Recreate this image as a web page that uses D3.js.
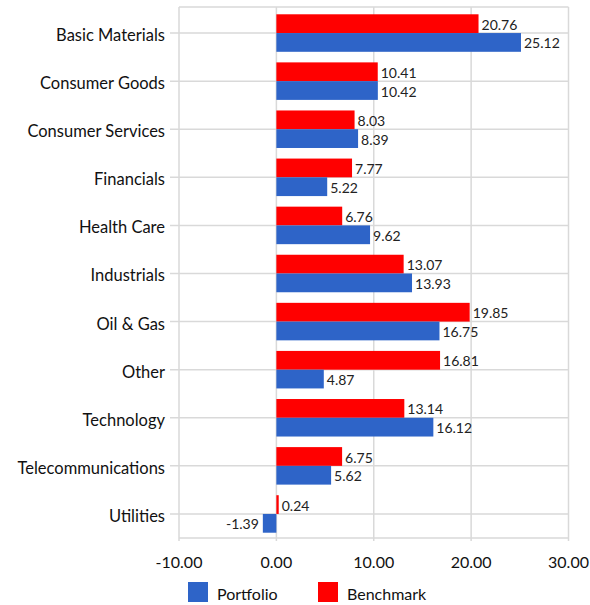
<!DOCTYPE html>
<html><head><meta charset="utf-8">
<script src="https://cdn.jsdelivr.net/npm/d3@7"></script>
<style>html,body{margin:0;padding:0;background:#fff;}</style>
</head><body>
<script>
const categories = ["Basic Materials","Consumer Goods","Consumer Services","Financials","Health Care","Industrials","Oil & Gas","Other","Technology","Telecommunications","Utilities"];
const portfolio = [25.12,10.42,8.39,5.22,9.62,13.93,16.75,4.87,16.12,5.62,-1.39];
const benchmark = [20.76,10.41,8.03,7.77,6.76,13.07,19.85,16.81,13.14,6.75,0.24];
const xTicks = [-10,0,10,20,30];
const seriesNames = ["Portfolio","Benchmark"];
const colors = {Portfolio:"#2e64c8", Benchmark:"#ff0000"};

(function(){
const W=590,H=605;
const pLeft=179,pRight=568.5,pTop=7,pBottom=538;
const font="Lato, 'Open Sans', sans-serif";
const svg=d3.select("body").append("svg").attr("width",W).attr("height",H);

const x=d3.scaleLinear().domain([-10,30]).range([pLeft,pRight]);
const y=d3.scaleBand().domain(categories).range([9,pBottom]).paddingInner(0.22).paddingOuter(0.11);
const grid="#d9d9d9";

const g=svg.append("g");
g.selectAll("line.v").data(xTicks).join("line")
 .attr("x1",d=>x(d)).attr("x2",d=>x(d)).attr("y1",pTop).attr("y2",pBottom+3)
 .attr("stroke",grid).attr("stroke-width",1.5);
g.append("line").attr("x1",pLeft).attr("x2",pRight).attr("y1",pTop).attr("y2",pTop).attr("stroke",grid).attr("stroke-width",1.5);
g.append("line").attr("x1",pLeft).attr("x2",pRight).attr("y1",pBottom).attr("y2",pBottom).attr("stroke",grid).attr("stroke-width",1.5);
const cy=c=>y(c)+y.bandwidth()/2;
g.selectAll("line.h").data(categories).join("line")
 .attr("x1",pLeft-9).attr("x2",pRight).attr("y1",d=>cy(d)).attr("y2",d=>cy(d))
 .attr("stroke",grid).attr("stroke-width",1.5);

const bw=y.bandwidth()/2;
const data=categories.map((c,i)=>({c,p:portfolio[i],b:benchmark[i]}));
const bars=svg.append("g");
bars.selectAll("rect.b").data(data).join("rect")
 .attr("x",d=>x(Math.min(0,d.b))).attr("width",d=>Math.abs(x(d.b)-x(0)))
 .attr("y",d=>y(d.c)).attr("height",bw).attr("fill",colors.Benchmark);
bars.selectAll("rect.p").data(data).join("rect")
 .attr("x",d=>x(Math.min(0,d.p))).attr("width",d=>Math.abs(x(d.p)-x(0)))
 .attr("y",d=>y(d.c)+bw).attr("height",bw).attr("fill",colors.Portfolio);

const lab=svg.append("g").attr("font-family",font).attr("font-size",14).attr("fill","#222");
function valLabel(v,yy){
  lab.append("text").attr("x",v<0?x(v)-4:x(v)+3).attr("y",yy)
   .attr("dy","0.36em").attr("text-anchor",v<0?"end":"start").text(v.toFixed(2));
}
data.forEach(d=>{valLabel(d.b,y(d.c)+bw/2+1);valLabel(d.p,y(d.c)+bw*1.5+1);});

svg.append("g").attr("font-family",font).attr("font-size",16.5).attr("fill","#111")
 .selectAll("text").data(categories).join("text")
 .attr("x",pLeft-14).attr("y",d=>cy(d)+2).attr("dy","0.36em").attr("text-anchor","end").text(d=>d);

svg.append("g").attr("font-family",font).attr("font-size",16).attr("fill","#111")
 .selectAll("text").data(xTicks).join("text")
 .attr("x",d=>x(d)).attr("y",562).attr("dy","0.36em").attr("text-anchor","middle").text(d=>d.toFixed(2));

const leg=svg.append("g").attr("font-family",font).attr("font-size",16).attr("fill","#111");
const legX=[188,318];
seriesNames.forEach((s,i)=>{
  leg.append("rect").attr("x",legX[i]).attr("y",582).attr("width",20).attr("height",20).attr("fill",colors[s]);
  leg.append("text").attr("x",legX[i]+29).attr("y",594.5).attr("dy","0.36em").text(s);
});
})();
</script>
</body></html>
